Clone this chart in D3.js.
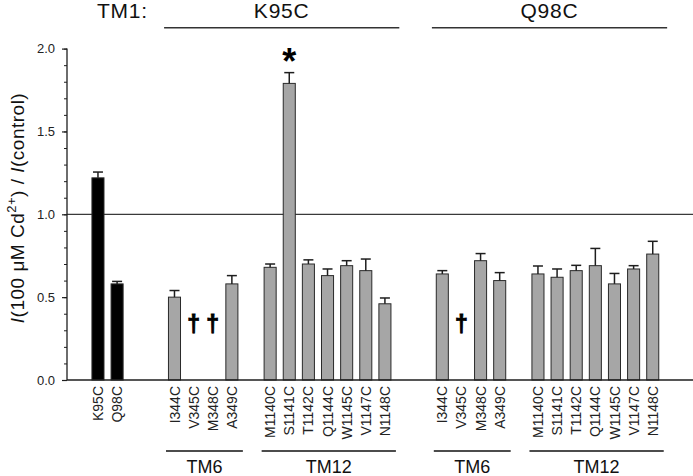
<!DOCTYPE html>
<html>
<head>
<meta charset="utf-8">
<script src="https://cdn.jsdelivr.net/npm/d3@7"></script>
<style>
  html, body { margin: 0; padding: 0; background: #fff; }
  svg { display: block; font-family: Arial, "Liberation Sans", sans-serif; }
</style>
</head>
<body>
<svg id="chart" width="693" height="476"></svg>
<script>
// ---- data ----
const labels = ["K95C","Q98C",
  "I344C","V345C","M348C","A349C",
  "M1140C","S1141C","T1142C","Q1144C","W1145C","V1147C","N1148C",
  "I344C","V345C","M348C","A349C",
  "M1140C","S1141C","T1142C","Q1144C","W1145C","V1147C","N1148C"];
const slots = [0,1, 4,5,6,7, 9,10,11,12,13,14,15, 18,19,20,21, 23,24,25,26,27,28,29];
const values = [1.22,0.58,
  0.50,null,null,0.58,
  0.68,1.79,0.70,0.63,0.69,0.66,0.46,
  0.64,null,0.72,0.60,
  0.64,0.62,0.66,0.69,0.58,0.67,0.76];
const errors = [0.035,0.015,
  0.04,null,null,0.05,
  0.02,0.065,0.025,0.04,0.03,0.07,0.035,
  0.02,null,0.043,0.048,
  0.048,0.05,0.032,0.104,0.063,0.02,0.077];
const kinds = ["control","control",
  "mutant","mutant","mutant","mutant",
  "mutant","mutant","mutant","mutant","mutant","mutant","mutant",
  "mutant","mutant","mutant","mutant",
  "mutant","mutant","mutant","mutant","mutant","mutant","mutant"];
const significant = ["S1141C@0"]; // asterisk markers (label@TM1 group)
const tm1Groups = [{label:"K95C", from:4, to:15}, {label:"Q98C", from:18, to:29}];
const tmGroups = [{label:"TM6", from:4, to:7},{label:"TM12", from:9, to:15},
                  {label:"TM6", from:18, to:21},{label:"TM12", from:23, to:29}];
const yMajorTicks = [0, 0.5, 1.0, 1.5, 2.0];
const yMinorTicks = d3.range(0, 2.0001, 0.1);
const referenceValue = 1.0;

// ---- layout ----
const svg = d3.select("#chart");
const ink = "#1e1e1e";
const axisX = 67, axisRight = 693;
const y = d3.scaleLinear().domain([0, 2]).range([380, 48.6]);
const x = d3.scaleBand().domain(d3.range(30)).range([88.4, 662.3])
  .paddingInner(0.37).paddingOuter(0.185);
const cx = i => x(i) + x.bandwidth() / 2;

const data = labels.map((l, i) => ({label: l, slot: slots[i], value: values[i],
  err: errors[i], kind: kinds[i], group: slots[i] >= 16 ? 1 : 0}));

// reference line at 1.0
svg.append("line")
  .attr("x1", axisX).attr("x2", axisRight)
  .attr("y1", y(referenceValue)).attr("y2", y(referenceValue))
  .attr("stroke", "#3a3a3a").attr("stroke-width", 1.3);

// bars
const bars = data.filter(d => d.value != null);
svg.append("g").selectAll("rect").data(bars).join("rect")
  .attr("x", d => x(d.slot))
  .attr("width", x.bandwidth())
  .attr("y", d => y(d.value))
  .attr("height", d => y(0) - y(d.value))
  .attr("fill", d => d.kind === "control" ? "#000" : "#a6a6a6")
  .attr("stroke", "#2a2a2a").attr("stroke-width", 1);

// error bars (upper only)
const eg = svg.append("g").attr("stroke", ink).attr("stroke-width", 1.5);
bars.forEach(d => {
  eg.append("line").attr("x1", cx(d.slot)).attr("x2", cx(d.slot))
    .attr("y1", y(d.value)).attr("y2", y(d.value + d.err));
  eg.append("line").attr("x1", cx(d.slot) - 5).attr("x2", cx(d.slot) + 5)
    .attr("y1", y(d.value + d.err)).attr("y2", y(d.value + d.err));
});

// daggers for missing values
svg.append("g").selectAll("text").data(data.filter(d => d.value == null)).join("text")
  .attr("x", d => cx(d.slot)).attr("y", 332)
  .attr("text-anchor", "middle").attr("font-size", 23).attr("font-weight", "bold")
  .attr("fill", "#000").attr("stroke", "#000").attr("stroke-width", 0.9)
  .text("\u2020");

// asterisk
data.filter(d => significant.includes(d.label + "@" + d.group)).forEach(d => {
  svg.append("text").attr("x", cx(d.slot)).attr("y", y(d.value + d.err) + 1)
    .attr("text-anchor", "middle").attr("font-size", 36).attr("font-weight", "bold")
    .attr("fill", "#000").text("*");
});

// y axis
const yAxisMinor = d3.axisLeft(y).tickValues(yMinorTicks).tickSize(3).tickFormat("");
const gMinor = svg.append("g").attr("transform", `translate(${axisX},0)`).call(yAxisMinor);
gMinor.select(".domain").remove();
gMinor.selectAll("line").attr("stroke", ink).attr("stroke-width", 1);
const yAxis = d3.axisLeft(y).tickValues(yMajorTicks).tickSize(5).tickPadding(7)
  .tickFormat(d3.format(".1f"));
const gy = svg.append("g").attr("transform", `translate(${axisX},0)`).call(yAxis);
gy.select(".domain").attr("d", `M0,${y(2)}V${y(0)}`).attr("stroke", ink).attr("stroke-width", 1.3);
gy.selectAll("line").attr("stroke", ink).attr("stroke-width", 1.2);
gy.selectAll("text").attr("font-size", 13).attr("fill", "#222")
  .attr("font-family", "Arial, 'Liberation Sans', sans-serif");

// x axis baseline
svg.append("line").attr("x1", axisX).attr("x2", axisRight)
  .attr("y1", y(0)).attr("y2", y(0)).attr("stroke", ink).attr("stroke-width", 1.5);

// x labels (rotated)
svg.append("g").selectAll("text").data(data).join("text")
  .attr("transform", d => `translate(${cx(d.slot)},${y(0) + 6}) rotate(-90)`)
  .attr("text-anchor", "end").attr("dy", "0.36em")
  .attr("font-size", 14).attr("fill", "#222").text(d => d.label);

// y label
const yl = svg.append("text")
  .attr("transform", "translate(24,208) rotate(-90)")
  .attr("text-anchor", "middle").attr("font-size", 19).attr("fill", "#111")
  .attr("letter-spacing", 0.5);
yl.append("tspan").attr("font-style", "italic").text("I");
yl.append("tspan").text("(100 \u03BCM Cd");
yl.append("tspan").attr("font-size", 13).attr("dy", -8).text("2+");
yl.append("tspan").attr("dy", 8).text(") / ");
yl.append("tspan").attr("font-style", "italic").text("I");
yl.append("tspan").text("(control)");

// top TM1 labels
svg.append("text").attr("x", cx(0) - 1).attr("y", 18).attr("font-size", 21)
  .attr("letter-spacing", 0.8).attr("fill", "#111").text("TM1:");
tm1Groups.forEach(g => {
  const x1 = cx(g.from) - 10.4, x2 = cx(g.to) + 14.4;
  svg.append("line").attr("x1", x1).attr("x2", x2).attr("y1", 27.7).attr("y2", 27.7)
    .attr("stroke", "#333").attr("stroke-width", 1.5);
  svg.append("text").attr("x", (x1 + x2) / 2).attr("y", 18).attr("text-anchor", "middle")
    .attr("font-size", 21).attr("letter-spacing", 0.8).attr("fill", "#111").text(g.label);
});

// bottom TM groups
tmGroups.forEach(g => {
  const x1 = cx(g.from) - 8.5, x2 = cx(g.to) + 11;
  svg.append("line").attr("x1", x1).attr("x2", x2).attr("y1", 451).attr("y2", 451)
    .attr("stroke", "#111").attr("stroke-width", 1.3);
  svg.append("text").attr("x", (x1 + x2) / 2).attr("y", 473).attr("text-anchor", "middle")
    .attr("font-size", 18).attr("fill", "#111").text(g.label);
});
</script>
</body>
</html>
